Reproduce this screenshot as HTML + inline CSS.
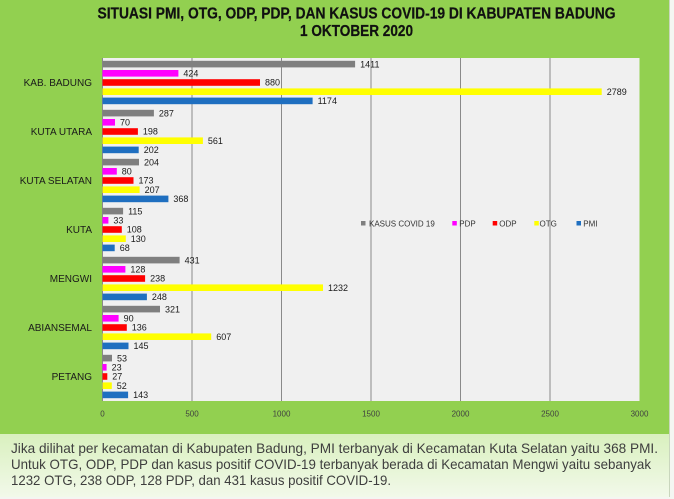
<!DOCTYPE html>
<html>
<head>
<meta charset="utf-8">
<style>
  html,body{margin:0;padding:0;background:#ffffff;}
  body{width:674px;height:499px;overflow:hidden;}
  svg{display:block;}
  text{font-family:"Liberation Sans", Arial, sans-serif;}
</style>
</head>
<body>
<svg width="674" height="499" viewBox="0 0 674 499" xmlns="http://www.w3.org/2000/svg">
  <defs>
    <linearGradient id="boxg" x1="0" y1="0" x2="0" y2="1">
      <stop offset="0" stop-color="#d9f0be"/>
      <stop offset="1" stop-color="#f2f9ea"/>
    </linearGradient>
  </defs>

  <!-- backgrounds -->
  <rect x="0" y="0" width="674" height="499" fill="#f4f6f2"/>
  <rect x="0" y="0" width="669" height="434" fill="#92d050"/>
  <rect x="0" y="434" width="669" height="63" fill="url(#boxg)"/>
  <rect x="669" y="0" width="1" height="497" fill="#c9d6bd"/>

  <!-- title -->
  <text x="97.5" y="18.5" font-size="15.5" font-weight="bold" fill="#111" stroke="#111" stroke-width="0.25" textLength="518" lengthAdjust="spacingAndGlyphs">SITUASI PMI, OTG, ODP, PDP, DAN KASUS COVID-19 DI KABUPATEN BADUNG</text>
  <text x="300" y="36" font-size="15.5" font-weight="bold" fill="#111" stroke="#111" stroke-width="0.25" textLength="113" lengthAdjust="spacingAndGlyphs">1 OKTOBER 2020</text>

  <!-- plot area -->
  <rect x="102.5" y="58" width="537" height="343" fill="#f0f0f0"/>
  <g stroke="#8a8a8a" stroke-width="1">
    <line x1="102.5" y1="58" x2="102.5" y2="401"/>
    <line x1="192" y1="58" x2="192" y2="401"/>
    <line x1="281.5" y1="58" x2="281.5" y2="401"/>
    <line x1="371" y1="58" x2="371" y2="401"/>
    <line x1="460.5" y1="58" x2="460.5" y2="401"/>
    <line x1="550" y1="58" x2="550" y2="401"/>
  </g>

  <!-- x tick labels -->
  <g font-size="8" fill="#404040" text-anchor="middle">
    <text x="102.5" y="416.5">0</text>
    <text x="192" y="416.5">500</text>
    <text x="281.5" y="416.5">1000</text>
    <text x="371" y="416.5">1500</text>
    <text x="460.5" y="416.5">2000</text>
    <text x="550" y="416.5">2500</text>
    <text x="639.5" y="416.5">3000</text>
  </g>

  <!-- category labels -->
  <g font-size="10" fill="#1a1a1a" text-anchor="end">
    <text x="92" y="86">KAB. BADUNG</text>
    <text x="92" y="135">KUTA UTARA</text>
    <text x="92" y="184">KUTA SELATAN</text>
    <text x="92" y="233">KUTA</text>
    <text x="92" y="282">MENGWI</text>
    <text x="92" y="331">ABIANSEMAL</text>
    <text x="92" y="380">PETANG</text>
  </g>

  <!-- bars -->
  <rect x="102.5" y="60.8" width="252.6" height="6.6" fill="#7f7f7f"/>
  <rect x="102.5" y="70.0" width="75.9" height="6.6" fill="#ff00ff"/>
  <rect x="102.5" y="79.2" width="157.5" height="6.6" fill="#ff0000"/>
  <rect x="102.5" y="88.4" width="499.2" height="6.6" fill="#ffff00"/>
  <rect x="102.5" y="97.6" width="210.1" height="6.6" fill="#1f6fc0"/>

  <rect x="102.5" y="109.8" width="51.4" height="6.6" fill="#7f7f7f"/>
  <rect x="102.5" y="119.0" width="12.5" height="6.6" fill="#ff00ff"/>
  <rect x="102.5" y="128.2" width="35.4" height="6.6" fill="#ff0000"/>
  <rect x="102.5" y="137.4" width="100.4" height="6.6" fill="#ffff00"/>
  <rect x="102.5" y="146.6" width="36.2" height="6.6" fill="#1f6fc0"/>

  <rect x="102.5" y="158.8" width="36.5" height="6.6" fill="#7f7f7f"/>
  <rect x="102.5" y="168.0" width="14.3" height="6.6" fill="#ff00ff"/>
  <rect x="102.5" y="177.2" width="31.0" height="6.6" fill="#ff0000"/>
  <rect x="102.5" y="186.4" width="37.1" height="6.6" fill="#ffff00"/>
  <rect x="102.5" y="195.6" width="65.9" height="6.6" fill="#1f6fc0"/>

  <rect x="102.5" y="207.8" width="20.6" height="6.6" fill="#7f7f7f"/>
  <rect x="102.5" y="217.0" width="5.9" height="6.6" fill="#ff00ff"/>
  <rect x="102.5" y="226.2" width="19.3" height="6.6" fill="#ff0000"/>
  <rect x="102.5" y="235.4" width="23.3" height="6.6" fill="#ffff00"/>
  <rect x="102.5" y="244.6" width="12.2" height="6.6" fill="#1f6fc0"/>

  <rect x="102.5" y="256.8" width="77.1" height="6.6" fill="#7f7f7f"/>
  <rect x="102.5" y="266.0" width="22.9" height="6.6" fill="#ff00ff"/>
  <rect x="102.5" y="275.2" width="42.6" height="6.6" fill="#ff0000"/>
  <rect x="102.5" y="284.4" width="220.5" height="6.6" fill="#ffff00"/>
  <rect x="102.5" y="293.6" width="44.4" height="6.6" fill="#1f6fc0"/>

  <rect x="102.5" y="305.8" width="57.5" height="6.6" fill="#7f7f7f"/>
  <rect x="102.5" y="315.0" width="16.1" height="6.6" fill="#ff00ff"/>
  <rect x="102.5" y="324.2" width="24.3" height="6.6" fill="#ff0000"/>
  <rect x="102.5" y="333.4" width="108.7" height="6.6" fill="#ffff00"/>
  <rect x="102.5" y="342.6" width="26.0" height="6.6" fill="#1f6fc0"/>

  <rect x="102.5" y="354.8" width="9.5" height="6.6" fill="#7f7f7f"/>
  <rect x="102.5" y="364.0" width="4.1" height="6.6" fill="#ff00ff"/>
  <rect x="102.5" y="373.2" width="4.8" height="6.6" fill="#ff0000"/>
  <rect x="102.5" y="382.4" width="9.3" height="6.6" fill="#ffff00"/>
  <rect x="102.5" y="391.6" width="25.6" height="6.6" fill="#1f6fc0"/>

  <!-- value labels -->
  <g font-size="9" fill="#1a1a1a">
    <text x="360.1" y="67.3">1411</text>
    <text x="183.4" y="76.5">424</text>
    <text x="265" y="85.7">880</text>
    <text x="606.7" y="94.9">2789</text>
    <text x="317.6" y="104.1">1174</text>

    <text x="158.9" y="116.3">287</text>
    <text x="120" y="125.5">70</text>
    <text x="142.9" y="134.7">198</text>
    <text x="207.9" y="143.9">561</text>
    <text x="143.7" y="153.1">202</text>

    <text x="144" y="165.3">204</text>
    <text x="121.8" y="174.5">80</text>
    <text x="138.5" y="183.7">173</text>
    <text x="144.6" y="192.9">207</text>
    <text x="173.4" y="202.1">368</text>

    <text x="128.1" y="214.3">115</text>
    <text x="113.4" y="223.5">33</text>
    <text x="126.8" y="232.7">108</text>
    <text x="130.8" y="241.9">130</text>
    <text x="119.7" y="251.1">68</text>

    <text x="184.6" y="263.3">431</text>
    <text x="130.4" y="272.5">128</text>
    <text x="150.1" y="281.7">238</text>
    <text x="328" y="290.9">1232</text>
    <text x="151.9" y="300.1">248</text>

    <text x="165" y="312.3">321</text>
    <text x="123.6" y="321.5">90</text>
    <text x="131.8" y="330.7">136</text>
    <text x="216.2" y="339.9">607</text>
    <text x="133.5" y="349.1">145</text>

    <text x="117" y="361.3">53</text>
    <text x="111.6" y="370.5">23</text>
    <text x="112.3" y="379.7">27</text>
    <text x="116.8" y="388.9">52</text>
    <text x="133.1" y="398.1">143</text>
  </g>

  <!-- legend -->
  <g font-size="8" fill="#333">
    <text x="369" y="226.5">KASUS COVID 19</text>
    <text x="459.3" y="226.5">PDP</text>
    <text x="499.3" y="226.5">ODP</text>
    <text x="539.5" y="226.5">OTG</text>
    <text x="583.3" y="226.5">PMI</text>
  </g>
  <rect x="361" y="221" width="4.5" height="4.5" fill="#7f7f7f"/>
  <rect x="452.3" y="221" width="4.5" height="4.5" fill="#ff00ff"/>
  <rect x="492.7" y="221" width="4.5" height="4.5" fill="#ff0000"/>
  <rect x="534.3" y="221" width="4.5" height="4.5" fill="#ffff00"/>
  <rect x="576.5" y="221" width="4.5" height="4.5" fill="#1f6fc0"/>

  <!-- description text -->
  <g font-size="14" fill="#3e3e3e">
    <text x="11" y="453" textLength="647" lengthAdjust="spacingAndGlyphs">Jika dilihat per kecamatan di Kabupaten Badung, PMI terbanyak di Kecamatan Kuta Selatan yaitu 368 PMI.</text>
    <text x="11" y="469" textLength="640" lengthAdjust="spacingAndGlyphs">Untuk OTG, ODP, PDP dan kasus positif COVID-19 terbanyak berada di Kecamatan Mengwi yaitu sebanyak</text>
    <text x="11" y="485" textLength="380" lengthAdjust="spacingAndGlyphs">1232 OTG, 238 ODP, 128 PDP, dan 431 kasus positif COVID-19.</text>
  </g>
</svg>
</body>
</html>
